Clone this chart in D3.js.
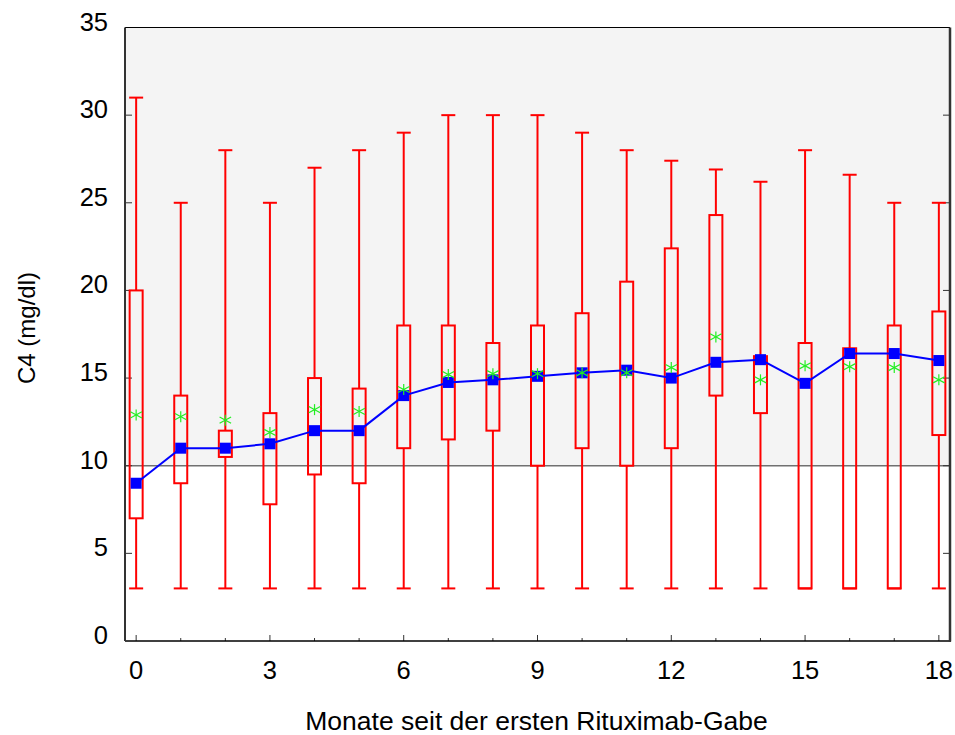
<!DOCTYPE html>
<html>
<head>
<meta charset="utf-8">
<script src="https://cdn.jsdelivr.net/npm/d3@7"></script>
<style>
  html, body { margin: 0; padding: 0; background: #ffffff; }
  svg { display: block; }
  text { font-family: "Liberation Sans", Arial, sans-serif; fill: #000; }
</style>
</head>
<body>
<svg id="chart" width="955" height="735"></svg>
<script>
// ---- Data ----
const months      = [0, 1, 2, 3, 4, 5, 6, 7, 8, 9, 10, 11, 12, 13, 14, 15, 16, 17, 18];
const whiskerLow  = [3, 3, 3, 3, 3, 3, 3, 3, 3, 3, 3, 3, 3, 3, 3, 3, 3, 3, 3];
const q1          = [7, 9, 10.5, 7.8, 9.5, 9, 11, 11.5, 12, 10, 11, 10, 11, 14, 13, 3, 3, 3, 11.75];
const q3          = [20, 14, 12, 13, 15, 14.4, 18, 18, 17, 18, 18.7, 20.5, 22.4, 24.3, 16.25, 17, 16.7, 18, 18.8];
const whiskerHigh = [31, 25, 28, 25, 27, 28, 29, 30, 30, 30, 29, 28, 27.4, 26.9, 26.2, 28, 26.6, 25, 25];
const median      = [9, 11, 11, 11.25, 12, 12, 14, 14.75, 14.9, 15.1, 15.3, 15.45, 15, 15.9, 16.05, 14.7, 16.4, 16.4, 16];
const mean        = [12.9, 12.8, 12.6, 11.9, 13.2, 13.1, 14.35, 15.2, 15.25, 15.25, 15.3, 15.3, 15.6, 17.35, 14.9, 15.7, 15.65, 15.6, 14.9];
const xTickLabels = [0, 3, 6, 9, 12, 15, 18];
const yTickLabels = [0, 5, 10, 15, 20, 25, 30, 35];
const refValue = 10;
const xTitle = "Monate seit der ersten Rituximab-Gabe";
const yTitle = "C4 (mg/dl)";

// ---- Layout ----
const L = 125, R = 950, T = 27.5, B = 641;
const svg = d3.select("#chart");
const x = d3.scaleLinear().domain([-0.25, 18.25]).range([L, R]);
const y = d3.scaleLinear().domain([0, 35]).range([B, T]);

const rows = months.map((m, i) => ({
  m, lo: whiskerLow[i], q1: q1[i], q3: q3[i], hi: whiskerHigh[i], med: median[i], mean: mean[i]
}));

// Plot background: shaded above reference
svg.append("rect").attr("x", L).attr("y", T).attr("width", R - L).attr("height", B - T).attr("fill", "#ffffff");
svg.append("rect").attr("x", L).attr("y", T).attr("width", R - L).attr("height", y(refValue) - T).attr("fill", "#f4f4f4");

// Reference line
svg.append("line").attr("x1", L).attr("x2", R).attr("y1", y(refValue)).attr("y2", y(refValue))
  .attr("stroke", "#707070").attr("stroke-width", 1.6);

// Axes (ticks pointing inward)
const gx = svg.append("g");
gx.selectAll("line.tick").data(months).join("line")
  .attr("x1", d => x(d)).attr("x2", d => x(d))
  .attr("y1", B).attr("y2", d => B - (d % 3 === 0 ? 6 : 3))
  .attr("stroke", "#333").attr("stroke-width", 1);
gx.selectAll("text").data(xTickLabels).join("text")
  .attr("x", d => x(d)).attr("y", 679)
  .attr("text-anchor", "middle").attr("font-size", 25.5).text(d => d);

const gy = svg.append("g");
gy.selectAll("line.l").data(yTickLabels.filter(d => d > 0 && d < 35)).join("line")
  .attr("x1", L).attr("x2", L + 7).attr("y1", d => y(d)).attr("y2", d => y(d))
  .attr("stroke", "#333").attr("stroke-width", 1);
gy.selectAll("line.r").data(yTickLabels.filter(d => d > 0 && d < 35)).join("line")
  .attr("x1", R - 7).attr("x2", R).attr("y1", d => y(d)).attr("y2", d => y(d))
  .attr("stroke", "#333").attr("stroke-width", 1);
gy.selectAll("text").data(yTickLabels).join("text")
  .attr("x", 108).attr("y", d => y(d) + 3)
  .attr("text-anchor", "end").attr("font-size", 25.5).text(d => d);

// Frame
svg.append("line").attr("x1", L).attr("x2", R).attr("y1", T).attr("y2", T).attr("stroke", "#000").attr("stroke-width", 1);
svg.append("line").attr("x1", L).attr("x2", R + 1).attr("y1", B).attr("y2", B).attr("stroke", "#000").attr("stroke-width", 1.5);
svg.append("line").attr("x1", L).attr("x2", L).attr("y1", T).attr("y2", B).attr("stroke", "#333").attr("stroke-width", 2);
svg.append("line").attr("x1", R).attr("x2", R).attr("y1", T).attr("y2", B + 0.5).attr("stroke", "#333").attr("stroke-width", 2.5);

// Boxplots
const boxW = 13, capW = 14;
const red = "#ff0000";
const gb = svg.append("g");
rows.forEach(d => {
  const cx = x(d.m);
  if (d.q1 > d.lo) {
    gb.append("line").attr("x1", cx).attr("x2", cx).attr("y1", y(d.lo)).attr("y2", y(d.q1))
      .attr("stroke", red).attr("stroke-width", 2);
  }
  gb.append("line").attr("x1", cx - capW / 2).attr("x2", cx + capW / 2).attr("y1", y(d.lo)).attr("y2", y(d.lo))
    .attr("stroke", red).attr("stroke-width", 2);
  gb.append("line").attr("x1", cx).attr("x2", cx).attr("y1", y(d.q3)).attr("y2", y(d.hi))
    .attr("stroke", red).attr("stroke-width", 2);
  gb.append("line").attr("x1", cx - capW / 2).attr("x2", cx + capW / 2).attr("y1", y(d.hi)).attr("y2", y(d.hi))
    .attr("stroke", red).attr("stroke-width", 2);
  gb.append("rect").attr("x", cx - boxW / 2).attr("y", y(d.q3))
    .attr("width", boxW).attr("height", y(d.q1) - y(d.q3))
    .attr("fill", "none").attr("stroke", red).attr("stroke-width", 2);
});

// Median line + squares
const blue = "#0000ff";
svg.append("path").datum(rows)
  .attr("d", d3.line().x(d => x(d.m)).y(d => y(d.med)))
  .attr("fill", "none").attr("stroke", blue).attr("stroke-width", 2);
const sq = 11;
svg.append("g").selectAll("rect").data(rows).join("rect")
  .attr("x", d => x(d.m) - sq / 2).attr("y", d => y(d.med) - sq / 2)
  .attr("width", sq).attr("height", sq).attr("fill", blue);

// Mean asterisks
const green = "#22ee22";
const ga = svg.append("g").attr("stroke", green).attr("stroke-width", 1.2);
rows.forEach(d => {
  const cx = x(d.m), cy = y(d.mean);
  ga.append("line").attr("x1", cx).attr("x2", cx).attr("y1", cy - 5.5).attr("y2", cy + 5.5);
  [28, 152].forEach(a => {
    const rad = a * Math.PI / 180, r = 6.5;
    ga.append("line")
      .attr("x1", cx - r * Math.cos(rad)).attr("y1", cy - r * Math.sin(rad))
      .attr("x2", cx + r * Math.cos(rad)).attr("y2", cy + r * Math.sin(rad));
  });
});

// Titles
svg.append("text").attr("x", (L + R) / 2 - 1).attr("y", 730)
  .attr("text-anchor", "middle").attr("font-size", 26.5).text(xTitle);
svg.append("text").attr("transform", "translate(35,328) rotate(-90)")
  .attr("text-anchor", "middle").attr("font-size", 24).text(yTitle);
</script>
</body>
</html>
